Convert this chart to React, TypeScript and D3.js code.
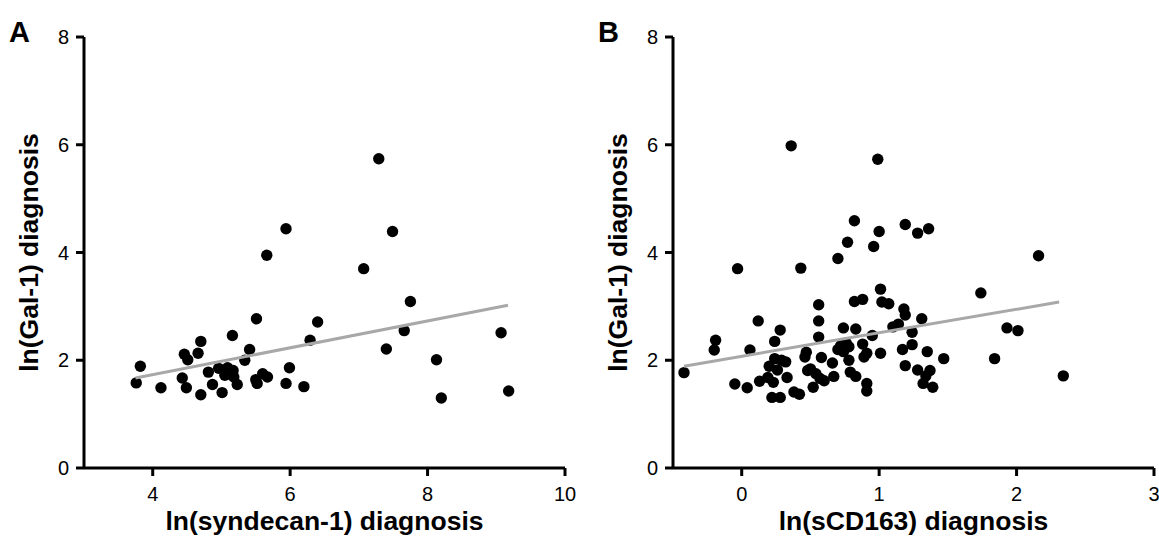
import React from 'react';
import * as d3 from 'd3';

// panel A: ln(syndecan-1) vs ln(Gal-1)
const syndecanX = [
  3.76, 3.82, 4.12, 4.43, 4.46, 4.51, 4.49, 4.66, 4.7, 4.7, 4.81, 4.87, 4.96, 5.01, 5.05,
  5.09, 5.12, 5.16, 5.17, 5.18, 5.23, 5.34, 5.41, 5.51, 5.5, 5.52, 5.6, 5.66, 5.67, 5.94,
  5.94, 5.99, 6.2, 6.29, 6.4, 7.07, 7.29, 7.4, 7.49, 7.66, 7.75, 8.13, 8.2, 9.07, 9.18,
];
const galA = [
  1.58, 1.89, 1.49, 1.67, 2.11, 2.01, 1.49, 2.13, 2.35, 1.36, 1.78, 1.55, 1.85, 1.4, 1.72,
  1.86, 1.75, 2.46, 1.81, 1.69, 1.55, 2.0, 2.2, 2.77, 1.64, 1.57, 1.75, 3.95, 1.69, 4.44,
  1.57, 1.86, 1.51, 2.37, 2.71, 3.7, 5.74, 2.21, 4.39, 2.55, 3.09, 2.01, 1.3, 2.51, 1.43,
];
const fitA = { x: [3.75, 9.17], y: [1.67, 3.02] };

// panel B: ln(sCD163) vs ln(Gal-1)
const scdX = [
  -0.42, -0.2, -0.19, -0.03, -0.05, 0.04, 0.06, 0.12, 0.13, 0.19, 0.2, 0.22, 0.23, 0.24, 0.24,
  0.26, 0.28, 0.28, 0.29, 0.32, 0.33, 0.36, 0.38, 0.42, 0.43, 0.46, 0.47, 0.48, 0.5, 0.52,
  0.54, 0.56, 0.56, 0.56, 0.57, 0.58, 0.6, 0.66, 0.67, 0.7, 0.7, 0.72, 0.74, 0.74, 0.76,
  0.77, 0.78, 0.78, 0.79, 0.82, 0.82, 0.83, 0.83, 0.88, 0.88, 0.89, 0.91, 0.91, 0.91, 0.95,
  0.96, 0.99, 1.0, 1.01, 1.01, 1.02, 1.07, 1.1, 1.14, 1.17, 1.18, 1.19, 1.19, 1.19, 1.24,
  1.24, 1.28, 1.28, 1.31, 1.32, 1.34, 1.35, 1.36, 1.37, 1.39, 1.47, 1.74, 1.84, 1.93, 2.01,
  2.16, 2.34,
];
const galB = [
  1.77, 2.19, 2.37, 3.7, 1.56, 1.49, 2.19, 2.73, 1.61, 1.68, 1.89, 1.31, 1.59, 2.35, 2.03,
  1.82, 2.56, 1.31, 2.0, 1.97, 1.68, 5.98, 1.41, 1.37, 3.71, 2.06, 2.15, 1.81, 1.84, 1.5,
  1.75, 2.73, 3.03, 2.43, 1.66, 2.05, 1.62, 1.95, 1.7, 3.89, 2.2, 2.27, 2.6, 2.16, 2.32,
  4.19, 2.25, 2.0, 1.78, 3.09, 4.59, 2.58, 1.7, 2.3, 3.13, 2.06, 2.13, 1.57, 1.43, 2.46,
  4.11, 5.73, 4.39, 2.13, 3.32, 3.08, 3.05, 2.62, 2.67, 2.2, 2.95, 4.52, 2.84, 1.9, 2.29,
  2.52, 4.36, 1.82, 2.77, 1.57, 1.71, 2.16, 4.44, 1.81, 1.5, 2.03, 3.25, 2.03, 2.6, 2.55,
  3.94, 1.71,
];
const fitB = { x: [-0.42, 2.31], y: [1.89, 3.08] };

const yTicks = [0, 2, 4, 6, 8];
const xTicksA = [4, 6, 8, 10];
const xTicksB = [0, 1, 2, 3];

const FONT = '"Liberation Sans", Arial, sans-serif';

type PanelProps = {
  letter: string;
  left: number;
  xDomain: [number, number];
  xTicks: number[];
  xs: number[];
  ys: number[];
  fit: { x: number[]; y: number[] };
  xTitle: string;
};

const Panel = ({ letter, left, xDomain, xTicks, xs, ys, fit, xTitle }: PanelProps) => {
  const x0 = left + 84;
  const x1 = left + 565;
  const yBottom = 468;
  const yTop = 37;
  const x = d3.scaleLinear().domain(xDomain).range([x0, x1]);
  const y = d3.scaleLinear().domain([0, 8]).range([yBottom, yTop]);
  const tick = 8;
  const line = d3
    .line<number>()
    .x((d) => x(d))
    .y((_, i) => y(fit.y[i]));

  return (
    <g>
      <text x={left + 9} y={42} fontFamily={FONT} fontWeight='bold' fontSize={29}>
        {letter}
      </text>

      {xs.map((d, i) => (
        <circle key={i} cx={x(d)} cy={y(ys[i])} r={5.7} fill='#000' />
      ))}

      <path d={line(fit.x) || ''} stroke='#a8a8a8' strokeWidth={3} fill='none' />

      {/* y axis */}
      <line x1={x0} x2={x0} y1={yTop} y2={yBottom} stroke='#000' strokeWidth={3} />
      {yTicks.map((t) => (
        <g key={t}>
          <line x1={x0 - tick} x2={x0} y1={y(t)} y2={y(t)} stroke='#000' strokeWidth={3} />
          <text
            x={x0 - 15}
            y={y(t)}
            dy='0.36em'
            textAnchor='end'
            fontFamily={FONT}
            fontSize={20}
          >
            {t}
          </text>
        </g>
      ))}

      {/* x axis */}
      <line x1={x0} x2={x1} y1={yBottom} y2={yBottom} stroke='#000' strokeWidth={3} />
      {xTicks.map((t) => (
        <g key={t}>
          <line x1={x(t)} x2={x(t)} y1={yBottom} y2={yBottom + tick} stroke='#000' strokeWidth={3} />
          <text
            x={x(t)}
            y={yBottom + 19}
            dy='0.71em'
            textAnchor='middle'
            fontFamily={FONT}
            fontSize={20}
          >
            {t}
          </text>
        </g>
      ))}

      <text
        x={(x0 + x1) / 2}
        y={530}
        textAnchor='middle'
        fontFamily={FONT}
        fontWeight='bold'
        fontSize={26.5}
      >
        {xTitle}
      </text>
      <text
        transform={`translate(${left + 38},${(yTop + yBottom) / 2}) rotate(-90)`}
        textAnchor='middle'
        fontFamily={FONT}
        fontWeight='bold'
        fontSize={26.5}
      >
        ln(Gal-1) diagnosis
      </text>
    </g>
  );
};

const App = () => {
  const width = 1159;
  const height = 539;
  return (
    <svg
      width={width}
      height={height}
      style={{ position: 'absolute', left: 0, top: 0, background: '#fff' }}
    >
      <Panel
        letter='A'
        left={0}
        xDomain={[3, 10]}
        xTicks={xTicksA}
        xs={syndecanX}
        ys={galA}
        fit={fitA}
        xTitle='ln(syndecan-1) diagnosis'
      />
      <Panel
        letter='B'
        left={589}
        xDomain={[-0.5, 3]}
        xTicks={xTicksB}
        xs={scdX}
        ys={galB}
        fit={fitB}
        xTitle='ln(sCD163) diagnosis'
      />
    </svg>
  );
};

export default App;
